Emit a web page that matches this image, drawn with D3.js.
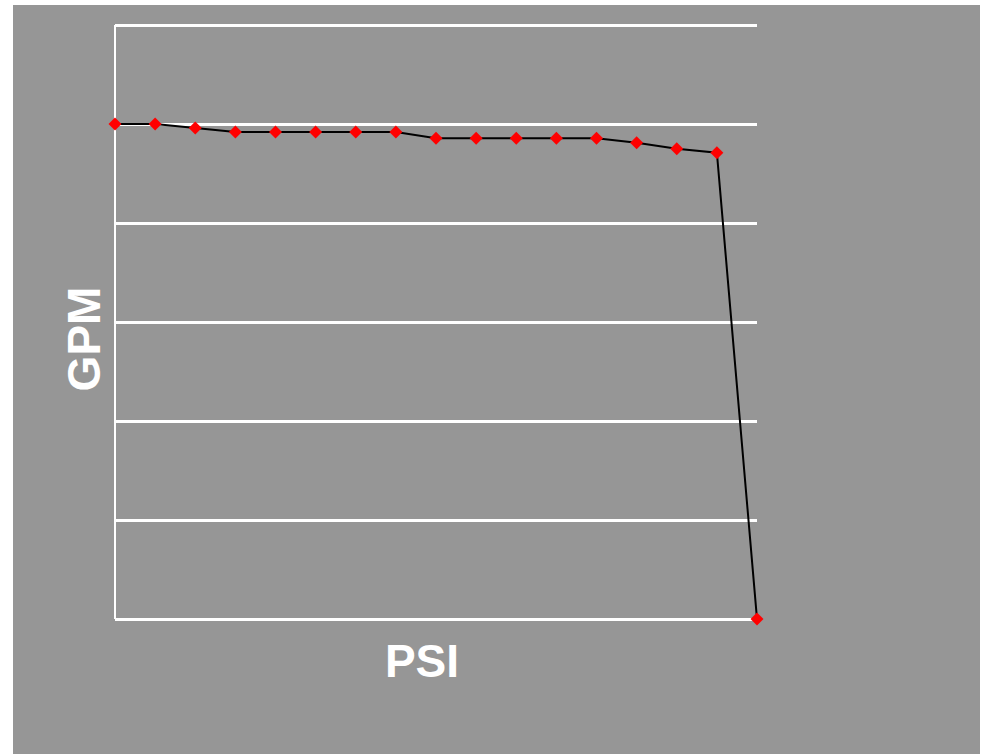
<!DOCTYPE html>
<html>
<head>
<meta charset="utf-8">
<script src="https://cdn.jsdelivr.net/npm/d3@7"></script>
<style>
  html, body { margin: 0; padding: 0; background: #ffffff; }
  svg { display: block; }
</style>
</head>
<body>
<svg id="chart" width="982" height="754"></svg>
<script>
// Data (x = point index along PSI, y = GPM in grid units)
const psiPoints = [0, 1, 2, 3, 4, 5, 6, 7, 8, 9, 10, 11, 12, 13, 14, 15, 16];
const gpmValues = [5.0, 5.0, 4.96, 4.92, 4.92, 4.92, 4.92, 4.92, 4.855, 4.855, 4.855, 4.855, 4.855, 4.81, 4.75, 4.71, 0];
const yTicks = [0, 1, 2, 3, 4, 5, 6];
const xLabel = "PSI";
const yLabel = "GPM";

const svg = d3.select("#chart");

// gray backdrop
svg.append("rect")
  .attr("x", 13).attr("y", 5)
  .attr("width", 967).attr("height", 749)
  .attr("fill", "#969696");

const margin = { left: 115, right: 757, top: 25, bottom: 619 };

const x = d3.scaleLinear().domain([0, 16]).range([margin.left, margin.right]);
const y = d3.scaleLinear().domain([0, 6]).range([margin.bottom, margin.top]);

// horizontal gridlines
const yAxis = d3.axisLeft(y)
  .tickValues(yTicks)
  .tickSize(-(margin.right - margin.left))
  .tickFormat("");
const gy = svg.append("g")
  .attr("transform", `translate(${margin.left},0)`)
  .call(yAxis);
gy.select(".domain").remove();
gy.selectAll(".tick line")
  .attr("stroke", "#ffffff")
  .attr("stroke-width", 3);

// left axis line
svg.append("line")
  .attr("x1", margin.left).attr("x2", margin.left)
  .attr("y1", y(6)).attr("y2", y(0))
  .attr("stroke", "#ffffff")
  .attr("stroke-width", 2);

// data line
const data = psiPoints.map((p, i) => ({ p, v: gpmValues[i] }));
const line = d3.line().x(d => x(d.p)).y(d => y(d.v));
svg.append("path")
  .datum(data)
  .attr("d", line)
  .attr("fill", "none")
  .attr("stroke", "#000000")
  .attr("stroke-width", 2);

// diamond markers
const diamond = d3.symbol().type(d3.symbolSquare).size(84);
svg.append("g").selectAll("path")
  .data(data)
  .join("path")
  .attr("d", diamond)
  .attr("transform", d => `translate(${x(d.p)},${y(d.v)}) rotate(45)`)
  .attr("fill", "#ff0000");

// axis titles
svg.append("text")
  .attr("x", 422).attr("y", 677)
  .attr("text-anchor", "middle")
  .attr("font-family", "Liberation Sans, Arial, sans-serif")
  .attr("font-weight", "bold")
  .attr("font-size", 46)
  .attr("fill", "#ffffff")
  .text(xLabel);

svg.append("text")
  .attr("transform", "translate(100,339) rotate(-90)")
  .attr("text-anchor", "middle")
  .attr("font-family", "Liberation Sans, Arial, sans-serif")
  .attr("font-weight", "bold")
  .attr("font-size", 46)
  .attr("fill", "#ffffff")
  .text(yLabel);
</script>
</body>
</html>
